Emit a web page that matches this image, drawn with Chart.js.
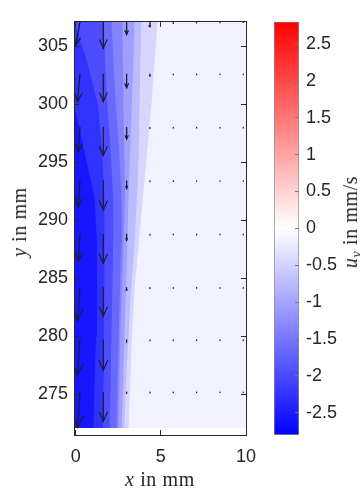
<!DOCTYPE html>
<html>
<head>
<meta charset="utf-8">
<script src="https://cdn.jsdelivr.net/npm/chart.js@4.4.0/dist/chart.umd.min.js"></script>
<style>
  body { margin: 0; background: #fff; }
  #wrap { position: relative; width: 360px; height: 490px; overflow: hidden; }
  canvas { position: absolute; left: 0; top: 0; }
  .lbl { position: absolute; font-family: 'Liberation Serif', 'Times New Roman', serif; font-size: 20px;
         line-height: 20px; color: #262626; white-space: nowrap; letter-spacing: 0.6px; }
  .lbl sub { font-size: 14px; line-height: 0; vertical-align: -4px; }
  #xlab { left: 160px; top: 469px; transform: translateX(-50%); }
  #ylab { left: 19px; top: 222px; transform: translate(-50%, -50%) rotate(-90deg); }
  #cblab { left: 350px; top: 222px; transform: translate(-50%, -50%) rotate(-90deg); }
</style>
</head>
<body>
<div id="wrap">
  <canvas id="main" width="360" height="490"></canvas>
  <canvas id="cbar" width="360" height="490"></canvas>
  <div class="lbl" id="xlab"><i>x</i> in mm</div>
  <div class="lbl" id="ylab"><i>y</i> in mm</div>
  <div class="lbl" id="cblab"><i>u</i><sub><i>y</i></sub> in mm/s</div>
</div>
<script>
// axes
const xMin = -0.1, xMax = 10;
const yMin = 271.5, yMax = 307.1;
const xTicks = [0, 5, 10];
const yTicks = [275, 280, 285, 290, 295, 300, 305];
const cbMin = -2.8, cbMax = 2.8;
const cbTicks = [-2.5, -2, -1.5, -1, -0.5, 0, 0.5, 1, 1.5, 2, 2.5];

// filled contours: u_y level of each band and the x of its outer edge along contourY
const contourY = [272.1, 276, 280, 284, 288, 292, 296, 300, 304, 307.1];
const levels = [-0.15, -0.45, -0.75, -1.05, -1.35, -1.65, -1.95, -2.25, -2.55];
const edge0 = [10, 10, 10, 10, 10, 10, 10, 10, 10, 10];
const edge1 = [3.1, 3.2, 3.3, 3.45, 3.7, 3.95, 4.2, 4.45, 4.65, 4.8];
const edge2 = [2.85, 2.95, 3.1, 3.25, 3.45, 3.6, 3.7, 3.75, 3.8, 3.85];
const edge3 = [2.7, 2.78, 2.86, 2.95, 3.03, 3.1, 3.2, 3.3, 3.4, 3.45];
const edge4 = [2.5, 2.55, 2.62, 2.7, 2.8, 2.9, 2.85, 2.8, 2.77, 2.75];
const edge5 = [2.4, 2.45, 2.52, 2.6, 2.66, 2.7, 2.55, 2.35, 2.2, 2.1];
const edge6 = [2.0, 2.05, 2.1, 2.15, 2.2, 2.2, 2.05, 1.85, 1.72, 1.65];
const edge7 = [1.6, 1.62, 1.65, 1.68, 1.7, 1.67, 1.55, 1.3, 0.6, -0.1];
const edge8 = [1.05, 1.1, 1.2, 1.25, 1.25, 1.1, 0.5, -0.1, -0.1, -0.1];

// quiver grid and velocities (mm/s), one array per column, top row first
const quiverX = [0.25, 1.62, 2.99, 4.36, 5.73, 7.10, 8.47, 9.84];
const quiverY = [307.1, 302.6, 298.0, 293.4, 288.8, 284.2, 279.7, 275.2];
const uxCol1 = [-0.25, -0.15, -0.1, -0.1, -0.1, -0.15, -0.15, -0.15];
const uyCol1 = [-2.1, -2.5, -2.2, -2.4, -2.4, -3.0, -3.2, -3.2];
const uyCol2 = [-2.4, -2.5, -2.55, -2.65, -2.65, -2.6, -2.75, -2.65];
const uyCol3 = [-1.15, -1.25, -1.05, -0.7, -0.55, -0.25, -0.18, -0.12];
const uyCol4 = [-0.45, -0.18, -0.1, -0.08, -0.08, -0.08, -0.08, -0.08];
const uyCol5 = [-0.15, -0.07, -0.06, -0.06, -0.06, -0.06, -0.06, -0.06];
const uyCol6 = [-0.1, -0.06, -0.05, -0.05, -0.05, -0.05, -0.05, -0.05];
const uyCol7 = [-0.08, -0.05, -0.05, -0.05, -0.05, -0.05, -0.05, -0.05];
const uyCol8 = [-0.06, -0.05, -0.05, -0.05, -0.05, -0.05, -0.05, -0.05];

const INK = '#262626';
const tickFont = { family: "'Liberation Sans', Arial, sans-serif", size: 18 };

function uyColor(v) {
  const t = Math.min(1, Math.abs(v) / cbMax);
  const c = Math.round(255 * (1 - t));
  return v < 0 ? `rgb(${c},${c},255)` : `rgb(255,${c},${c})`;
}

function bandPoints(edge) {
  const pts = contourY.map((y, i) => ({ x: edge[i], y }));
  pts.push({ x: xMin, y: contourY[contourY.length - 1] }, { x: xMin, y: contourY[0] });
  return pts;
}

// quiver: shafts and V heads built from the velocity arrays
const quiverScale = 0.95;      // mm of arrow per mm/s
const aspect = 16.96 / 11.94;  // px per mm in x over px per mm in y
const uyCols = [uyCol1, uyCol2, uyCol3, uyCol4, uyCol5, uyCol6, uyCol7, uyCol8];
const shafts = [], heads = [];
quiverX.forEach((x, i) => {
  quiverY.forEach((y, j) => {
    const dx = (i === 0 ? uxCol1[j] : 0) * quiverScale;
    const dy = uyCols[i][j] * quiverScale;
    const tx = x + dx, ty = y + dy;
    shafts.push({ x, y }, { x: tx, y: ty }, { x: tx, y: null });
    const ex = dx * aspect, ey = dy, L = Math.hypot(ex, ey);
    if (L < 0.15) return;
    const ux = ex / L, uy = ey / L;
    const hl = 0.33 * L, hw = 0.14 * L;
    const bx = -ux * hl, by = -uy * hl;
    heads.push(
      { x: tx + (bx - uy * hw) / aspect, y: ty + by + ux * hw },
      { x: tx, y: ty },
      { x: tx + (bx + uy * hw) / aspect, y: ty + by - ux * hw },
      { x: tx, y: null }
    );
  });
});

// widest band first in the list, so darkest band is drawn last
const edges = [edge8, edge7, edge6, edge5, edge4, edge3, edge2, edge1, edge0];
const bandLevels = levels.slice().reverse();
const bandSets = edges.map((e, k) => ({
  data: bandPoints(e),
  fill: 'shape',
  backgroundColor: uyColor(bandLevels[k]),
  borderColor: 'rgba(0,0,0,0)',
  borderWidth: 0,
  pointRadius: 0
}));

const sideTicks = (pos, vals, showLabels, size) => ({
  type: 'linear',
  position: pos,
  min: (pos === 'left' || pos === 'right') ? yMin : xMin,
  max: (pos === 'left' || pos === 'right') ? yMax : xMax,
  afterBuildTicks: s => { s.ticks = vals.map(v => ({ value: v })); },
  afterFit: s => { if (pos === 'left' || pos === 'right') s.width = size; else s.height = size; },
  grid: { drawOnChartArea: false, tickLength: -5, color: INK, z: 1 },
  border: { color: INK, width: 1, z: 1 },
  ticks: {
    display: showLabels,
    padding: pos === 'left' ? 11 : 16,
    color: INK,
    font: tickFont,
    callback: v => String(v)
  }
});

new Chart(document.getElementById('main'), {
  type: 'line',
  data: {
    datasets: [
      { data: heads, borderColor: '#1c1c36', borderWidth: 1.2, pointRadius: 0, fill: false, spanGaps: false },
      { data: shafts, borderColor: '#1c1c36', borderWidth: 1.3, borderCapStyle: 'round', pointRadius: 0, fill: false, spanGaps: false },
      ...bandSets
    ]
  },
  options: {
    responsive: false,
    animation: false,
    events: [],
    layout: { padding: 0 },
    plugins: { legend: { display: false }, tooltip: { enabled: false } },
    scales: {
      x: sideTicks('bottom', xTicks, true, 55),
      x2: sideTicks('top', xTicks, false, 10),
      y: sideTicks('left', yTicks, true, 74),
      y2: sideTicks('right', yTicks, false, 114)
    }
  }
});

// colorbar
new Chart(document.getElementById('cbar'), {
  type: 'bar',
  data: {
    labels: [''],
    datasets: [{
      data: [[cbMin, cbMax]],
      barPercentage: 1,
      categoryPercentage: 1,
      borderWidth: 1,
      borderColor: '#8c8c8c',
      borderSkipped: false,
      backgroundColor: c => {
        const chart = c.chart;
        if (!chart.chartArea) return '#fff';
        const ys = chart.scales.y;
        const g = chart.ctx.createLinearGradient(0, ys.getPixelForValue(cbMax), 0, ys.getPixelForValue(cbMin));
        g.addColorStop(0, uyColor(cbMax));
        g.addColorStop(0.5, uyColor(0));
        g.addColorStop(1, uyColor(cbMin));
        return g;
      }
    }]
  },
  options: {
    responsive: false,
    animation: false,
    events: [],
    layout: { padding: { left: 274, top: 10, bottom: 55, right: 0 } },
    plugins: { legend: { display: false }, tooltip: { enabled: false } },
    scales: {
      x: { display: false },
      y: {
        position: 'right',
        min: cbMin,
        max: cbMax,
        afterBuildTicks: s => { s.ticks = cbTicks.map(v => ({ value: v })); },
        afterFit: s => { s.width = 61; },
        grid: { drawOnChartArea: false, tickLength: -4, color: '#7a7a7a', z: 1 },
        border: { display: false },
        ticks: { padding: 11, color: INK, font: tickFont, callback: v => String(v) }
      }
    }
  }
});
</script>
</body>
</html>
